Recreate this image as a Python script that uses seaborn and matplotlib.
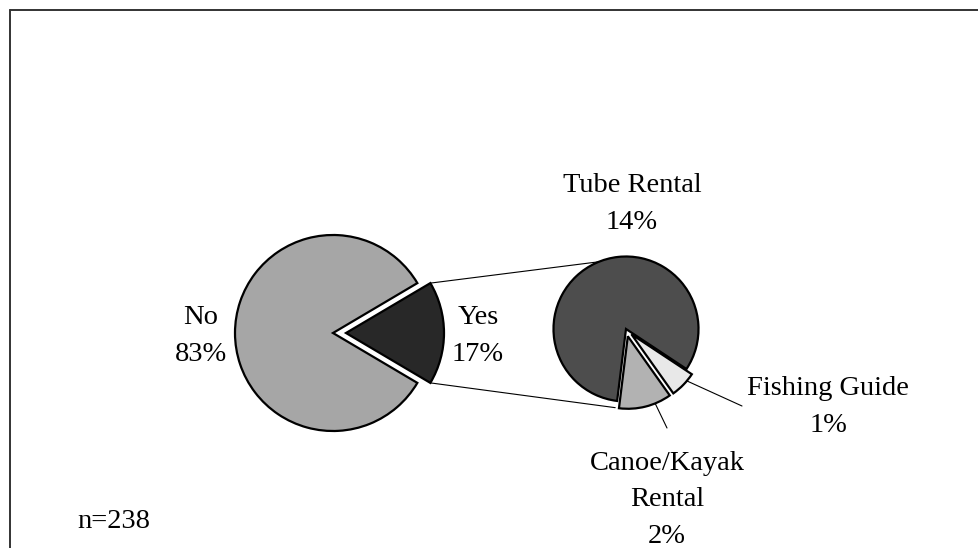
import numpy as np
import matplotlib.pyplot as plt
import seaborn as sns
from matplotlib.lines import Line2D

# data
main_labels = ['No', 'Yes']
main_values = [83, 17]
sub_labels = ['Tube Rental', 'Canoe/Kayak\nRental', 'Fishing Guide']
sub_values = [14, 2, 1]
n_total = 238

main_colors = ['#a6a6a6', '#282828']
sub_colors = ['#4d4d4d', '#b2b2b2', '#e8e8e8']

sns.set_theme(style="white")
plt.rcParams['font.family'] = ['Liberation Serif', 'DejaVu Serif']

W, H = 979, 548
fig = plt.figure(figsize=(W / 100, H / 100), dpi=100)
ax = fig.add_axes([0, 0, 1, 1])

# frame (top and left visible, rest runs off the image)
fig.add_artist(Line2D([10 / W, 10 / W], [0, 1 - 10 / H], color='#333333', lw=1.4))
fig.add_artist(Line2D([10 / W, 1], [1 - 10 / H, 1 - 10 / H], color='#333333', lw=1.4))

edge = dict(edgecolor='black', linewidth=1.6)

# main pie (explode given in pixels, pie offsets are absolute)
c1 = (333, H - 333)
r1 = 98
main_start = 360 * main_values[1] / sum(main_values) / 2
w1, _ = ax.pie(main_values, colors=main_colors, startangle=main_start,
               explode=[0, 13], center=c1, radius=r1, wedgeprops=edge,
               frame=True)

# sub pie
c2 = (626, H - 329)
r2 = 72.5
sub_start = -33.5
w2, _ = ax.pie(sub_values, colors=sub_colors, startangle=sub_start,
               explode=[0, 7.5, 7.5], center=c2, radius=r2, wedgeprops=edge,
               frame=True)
ax.set_xlim(0, W)
ax.set_ylim(0, H)
ax.set_aspect('equal')
ax.axis('off')


def wedge_point(w, ang, frac=1.0):
    cx, cy = w.center
    a = np.deg2rad(ang)
    return cx + w.r * frac * np.cos(a), cy + w.r * frac * np.sin(a)


# connector lines from the Yes slice to the sub pie
yes = w1[1]
p_top = wedge_point(yes, yes.theta2)
p_bot = wedge_point(yes, yes.theta1)
q_top = wedge_point(w2[0], 112)
q_bot = wedge_point(w2[1], w2[1].theta1 - 3)
ax.plot([p_top[0], q_top[0]], [p_top[1], q_top[1]], color='black', lw=0.8)
ax.plot([p_bot[0], q_bot[0]], [p_bot[1], q_bot[1]], color='black', lw=0.8)

fs = 20.5
tk = dict(ha='center', va='center', fontsize=fs, color='black', linespacing=1.6)

ax.text(201, H - 336, f'{main_labels[0]}\n{main_values[0]}%', **tk)
ax.text(478, H - 336, f'{main_labels[1]}\n{main_values[1]}%', **tk)
ax.text(632, H - 204, f'{sub_labels[0]}\n{sub_values[0]}%', **tk)
ax.text(828, H - 407, f'{sub_labels[2]}\n{sub_values[2]}%', **tk)
ax.text(667, H - 500, f'{sub_labels[1]}\n{sub_values[1]}%', **tk)
ax.text(77, H - 522, f'n={n_total}', ha='left', va='center', fontsize=fs,
        color='black')

# leader lines
fish = w2[2]
f0 = wedge_point(fish, (fish.theta1 + fish.theta2) / 2 + 4)
ax.plot([f0[0], 742], [f0[1], H - 406], color='black', lw=0.8)
canoe = w2[1]
k0 = wedge_point(canoe, (canoe.theta1 + canoe.theta2) / 2 + 8)
ax.plot([k0[0], 667], [k0[1], H - 428], color='black', lw=0.8)

fig.savefig('out.png', dpi=100)
